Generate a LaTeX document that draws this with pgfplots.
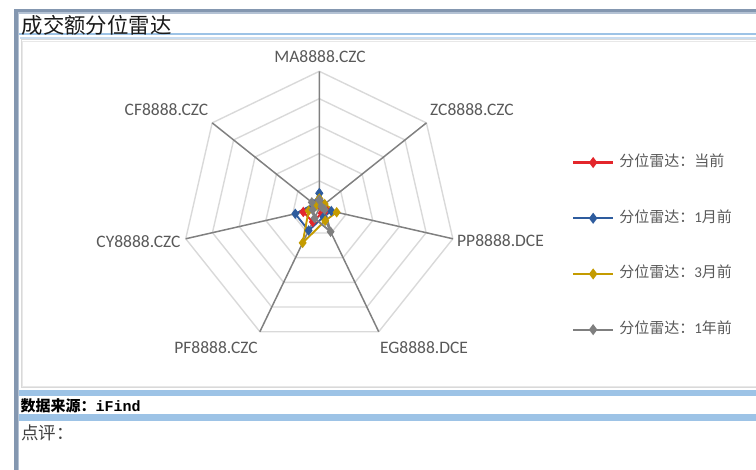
\documentclass[border=0pt]{standalone}
\usepackage{fontspec}
\setmainfont{Carlito}
\newfontfamily\cjk{Noto Sans CJK SC}
\newfontfamily\mono{Liberation Mono}
\usepackage{pgfplots}
\pgfplotsset{compat=1.18}
\usepgfplotslibrary{polar}
\definecolor{framedark}{HTML}{8497B0}
\definecolor{framelight}{HTML}{B4C2D4}
\definecolor{barblue}{HTML}{9DC3E6}
\definecolor{paleblue}{HTML}{C9DCEF}
\definecolor{labelgray}{HTML}{595959}
\definecolor{ringgray}{HTML}{D9D9D9}
\definecolor{spokegray}{HTML}{808080}
\definecolor{sred}{HTML}{E3262B}
\definecolor{sblue}{HTML}{2E5C9E}
\definecolor{syellow}{HTML}{C49B00}
\definecolor{sgray}{HTML}{7F7F7F}
\begin{document}
\begin{tikzpicture}
\useasboundingbox (0pt,0pt) rectangle (756pt,470pt);
\begin{scope}[shift={(0pt,470pt)}, x=1pt, y=-1pt]
  % outer frame
  \fill[framedark] (14,9.5) rectangle (756,12.5);
  \fill[framelight] (17.5,12.5) rectangle (756,14);
  \fill[framedark] (14,9.5) rectangle (17.5,470);
  \fill[framelight] (17.5,12.5) rectangle (18.8,470);
  % title line
  \fill[barblue] (19,33.5) rectangle (756,35.5);
  \fill[paleblue] (20,37.2) rectangle (756,39);
  % chart area border
  \draw[ringgray, line width=0.8pt] (21,39.5) rectangle (760,387.5);
  \draw[ringgray!60, line width=0.6pt] (22.5,41) rectangle (760,386);
  % bottom bars
  \fill[barblue] (19,390) rectangle (756,396);
  \fill[barblue] (19,414) rectangle (756,421);
  % texts
  \node[anchor=west, inner sep=0pt, text=black!90] at (21.5,25)
    {\cjk\fontsize{21.4}{23}\selectfont 成交额分位雷达};
  \node[anchor=west, inner sep=0pt, text=black] at (20.5,405.5)
    {\fontsize{15}{17}\selectfont{\cjk\bfseries 数据来源：}{\mono\bfseries iFind}};
  \node[anchor=west, inner sep=0pt, text=black!75] at (21,433)
    {\cjk\fontsize{17.5}{19}\selectfont 点评：};
  % category labels
  \begin{scope}[every node/.style={inner sep=0pt, text=labelgray, font=\fontsize{17.5}{19}\selectfont}]
    \node at (320,57) {MA8888.CZC};
    \node at (472,109.5) {ZC8888.CZC};
    \node at (500.5,241) {PP8888.DCE};
    \node at (424,348) {EG8888.DCE};
    \node at (216,348) {PF8888.CZC};
    \node at (138.5,241.5) {CY8888.CZC};
    \node at (166.5,109.7) {CF8888.CZC};
  \end{scope}
\end{scope}
\begin{axis}[
  at={(319.3pt,261.7pt)}, anchor=origin,
  scale only axis, hide axis, clip=false,
  x=137pt, y=137pt,
  xmin=-2.3307, xmax=3.1876, ymin=-1.9102, ymax=1.5204,
  legend style={at={(rel axis cs:0.7566,0.6690)}, anchor=north west,
    draw=none, fill=none, inner sep=0pt, outer sep=0pt,
    row sep=41.7pt, column sep=5pt,
    font=\fontsize{15}{17}\selectfont, text=labelgray,
    nodes={inner sep=0pt, text height=11pt, text depth=3pt}},
  legend cell align=left,
  legend image code/.code={
    \draw[mark repeat=2, mark phase=2, #1, line width=2.3pt] plot coordinates {(0pt,0pt) (20pt,0pt) (40pt,0pt)};
  },
]
% rings
\foreach \r in {0.2,0.4,0.6,0.8,1.0} {
  \addplot[forget plot, ringgray, line width=1.4pt, data cs=polar] coordinates {
    (90,\r) (38.5714,\r) (-12.8571,\r) (-64.2857,\r) (-115.7143,\r) (-167.1429,\r) (141.4286,\r) (90,\r)};
}
% spokes
\addplot[forget plot, spokegray, line width=1.5pt, data cs=polar] coordinates {
  (90,1) (0,0) (38.5714,1) (0,0) (-12.8571,1) (0,0) (-64.2857,1) (0,0)
  (-115.7143,1) (0,0) (-167.1429,1) (0,0) (141.4286,1)};
% data series
\addplot[sred, line width=1.9pt, mark=diamond*, mark size=3.7pt, data cs=polar] coordinates {
  (90,0.03) (38.5714,0.03) (-12.8571,0.05) (-64.2857,0.04) (-115.7143,0.11) (-167.1429,0.12) (141.4286,0.04) (90,0.03)};
\addlegendentry{{\cjk 分位雷达：当前}}
\addplot[sblue, line width=1.9pt, mark=diamond*, mark size=3.7pt, data cs=polar] coordinates {
  (90,0.11) (38.5714,0.04) (-12.8571,0.09) (-64.2857,0.07) (-115.7143,0.18) (-167.1429,0.18) (141.4286,0.05) (90,0.11)};
\addlegendentry{{\cjk 分位雷达：}1{\cjk 月前}}
\addplot[syellow, line width=1.9pt, mark=diamond*, mark size=3.7pt, data cs=polar] coordinates {
  (90,0.07) (38.5714,0.05) (-12.8571,0.13) (-64.2857,0.10) (-115.7143,0.28) (-167.1429,0.08) (141.4286,0.03) (90,0.07)};
\addlegendentry{{\cjk 分位雷达：}3{\cjk 月前}}
\addplot[sgray, line width=1.9pt, mark=diamond*, mark size=3.7pt, data cs=polar] coordinates {
  (90,0.06) (38.5714,0.02) (-12.8571,0.04) (-64.2857,0.19) (-115.7143,0.08) (-167.1429,0.05) (141.4286,0.07) (90,0.06)};
\addlegendentry{{\cjk 分位雷达：}1{\cjk 年前}}
\end{axis}
\end{tikzpicture}
\end{document}
